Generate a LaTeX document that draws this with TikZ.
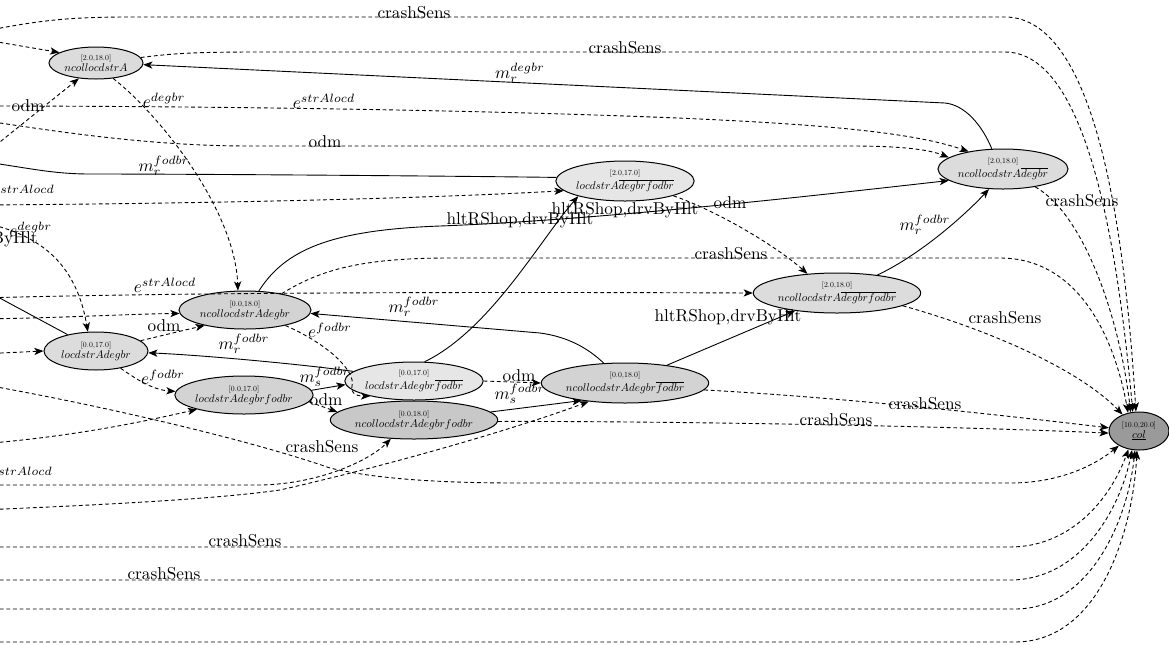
\RequirePackage{fix-cm}
\documentclass[tikz,border=0pt]{standalone}
\usepackage{graphicx}
\usetikzlibrary{arrows.meta,shapes.geometric}
\definecolor{cLight}{HTML}{DCDCDC}
\definecolor{cPale}{HTML}{E6E6E6}
\definecolor{cMid}{HTML}{D3D3D3}
\definecolor{cDeep}{HTML}{C8C8C8}
\definecolor{cDark}{HTML}{9A9A9A}
% state text: small coordinates above, state name below
\newcommand\stlab[2]{\scalebox{0.39}{[#1]}\\\scalebox{0.56}{$#2$}}
% transition text
\newcommand\lt[1]{\scalebox{0.86}{#1}}
\tikzset{
  st/.style={draw, ellipse, line width=0.5pt, inner sep=0pt, align=center,
             font=\fontsize{10}{5.2}\selectfont},
  e/.style={-{Stealth[length=4.6pt,width=3.6pt,inset=1.2pt]}, line width=0.45pt},
  de/.style={e, dash pattern=on 1.9pt off 1.4pt},
  lbl/.style={inner sep=0pt},
}
\begin{document}
\begin{tikzpicture}[x=0.5pt,y=-0.5pt]
\useasboundingbox (0,0) rectangle (1169,644);

% states
\node[st, fill=cLight, minimum width=47pt, minimum height=16pt] (A) at (96,63) {\stlab{2.0,18.0}{ncollocdstrA}};
\node[st, fill=cLight, minimum width=65pt, minimum height=20pt] (B) at (1003,169) {\stlab{2.0,18.0}{ncollocdstrA\overline{degbr}}};
\node[st, fill=cPale, minimum width=68pt, minimum height=20pt] (C) at (625,181) {\stlab{2.0,17.0}{locdstrA\overline{degbrfodbr}}};
\node[st, fill=cLight, minimum width=83pt, minimum height=20pt] (D) at (837,293) {\stlab{2.0,18.0}{ncollocdstrA\overline{degbrfodbr}}};
\node[st, fill=cMid, minimum width=66pt, minimum height=19pt] (E) at (245,310) {\stlab{0.0,18.0}{ncollocdstrAdegbr}};
\node[st, fill=cLight, minimum width=52pt, minimum height=19pt] (F) at (96,351) {\stlab{0.0,17.0}{locdstrAdegbr}};
\node[st, fill=cMid, minimum width=68pt, minimum height=19pt] (G) at (244,395) {\stlab{0.0,17.0}{locdstrAdegbrfodbr}};
\node[st, fill=cPale, minimum width=68pt, minimum height=19pt] (H) at (414,381) {\stlab{0.0,17.0}{locdstrAdegbr\overline{fodbr}}};
\node[st, fill=cDeep, minimum width=83pt, minimum height=19pt] (I) at (414,420) {\stlab{0.0,18.0}{ncollocdstrAdegbrfodbr}};
\node[st, fill=cMid, minimum width=83pt, minimum height=20pt] (J) at (625,383) {\stlab{0.0,18.0}{ncollocdstrAdegbr\overline{fodbr}}};
\node[st, fill=cDark, minimum width=30pt, minimum height=19pt] (K) at (1139,431) {\stlab{10.0,20.0}{\underline{col}}};

% loose ends beyond the left border
\coordinate (p1) at (-20,32);
\coordinate (p2) at (-20,106);
\coordinate (p3) at (-20,120);
\coordinate (p4) at (-30,160);
\coordinate (p5) at (-20,205);
\coordinate (p6) at (-20,384);
\coordinate (p7) at (-20,547);
\coordinate (p8) at (-20,580);
\coordinate (p9) at (-20,609);
\coordinate (p10) at (-20,642);
\coordinate (p11) at (-20,39);
\coordinate (p12) at (-20,158);
\coordinate (p13) at (-20,222);
\coordinate (p14) at (-30,282);
\coordinate (p15) at (-20,319);
\coordinate (p16) at (-20,298);
\coordinate (p17) at (-20,354);
\coordinate (p18) at (-20,444);
\coordinate (p19) at (-20,485);
\coordinate (p20) at (-20,510);

% transitions
\draw[de] (p1) .. controls (40,20) and (70,17) .. (130,17) -- (1005,17) .. controls (1100,17) and (1126,250) .. (K.99);
\draw[de] (A.7) .. controls (175,53) and (200,52) .. (260,52) -- (1005,52) .. controls (1088,52) and (1118,250) .. (K.108);
\draw[e] (B.119) .. controls (982,125) and (965,105) .. (945,103) -- (A.358);
\draw[de] (p2) .. controls (200,106) and (500,110) .. (700,119) .. controls (850,126) and (920,135) .. (B.153);
\draw[de] (p3) .. controls (60,132) and (150,146) .. (250,146) -- (850,146) .. controls (905,146) and (930,150) .. (B.168);
\draw[e] (C.177) .. controls (450,176) and (200,174) .. (90,174) .. controls (50,174) and (25,167) .. (p4);
\draw[de] (p5) .. controls (150,204) and (400,200) .. (C.189);
\draw[e] (H.61) .. controls (490,330) and (540,240) .. (C.198);
\draw[e] (E.54) .. controls (285,250) and (330,230) .. (440,226) .. controls (600,220) and (820,195) .. (B.192);
\draw[de] (C.343) .. controls (715,210) and (775,245) .. (D.147);
\draw[e] (J.23) -- (D.203);
\draw[e] (D.24) .. controls (920,255) and (965,215) .. (B.235);
\draw[de] (B.331) .. controls (1085,215) and (1120,320) .. (K.114);
\draw[de] (E.24) .. controls (320,270) and (360,258) .. (450,258) -- (1000,258) .. controls (1080,258) and (1115,340) .. (K.121);
\draw[de] (D.349) .. controls (990,330) and (1080,370) .. (K.135);
\draw[de] (J.355) .. controls (850,398) and (1000,415) .. (K.174);
\draw[de] (I.359) .. controls (600,421) and (900,424) .. (K.184);
\draw[de] (p6) .. controls (100,405) and (250,440) .. (330,468) .. controls (380,480) and (450,483) .. (520,483) -- (1010,483) .. controls (1060,483) and (1095,465) .. (K.216);
\draw[de] (p7) -- (1010,547) .. controls (1070,547) and (1110,500) .. (K.240);
\draw[de] (p8) -- (1010,580) .. controls (1080,580) and (1120,510) .. (K.250);
\draw[de] (p9) -- (1015,609) .. controls (1090,609) and (1128,520) .. (K.258);
\draw[de] (p10) -- (1015,642) .. controls (1100,642) and (1133,530) .. (K.264);
\draw[de] (p11) -- (A.164);
\draw[de] (p12) -- (A.222);
\draw[de] (A.318) .. controls (160,115) and (235,210) .. (E.110);
\draw[de] (p13) .. controls (30,232) and (75,255) .. (F.113);
\draw[e] (F.150) -- (p14);
\draw[de] (p15) .. controls (60,318) and (130,314) .. (E.183);
\draw[de] (p16) .. controls (200,292) and (500,292) .. (D.180);
\draw[de] (p17) -- (F.180);
\draw[de] (F.13) .. controls (160,336) and (185,330) .. (E.201);
\draw[e] (H.171) .. controls (300,364) and (200,355) .. (F.358);
\draw[e] (J.137) .. controls (590,350) and (570,337) .. (540,333) -- (E.357);
\draw[de] (F.325) .. controls (140,382) and (155,390) .. (G.177);
\draw[e] (G.4) -- (H.183);
\draw[de] (G.354) -- (I.174);
\draw[de] (E.339) .. controls (330,345) and (356,372) .. (352,386) .. controls (350,392) and (355,396) .. (H.199);
\draw[de] (p18) .. controls (80,436) and (150,420) .. (G.197);
\draw[de] (H.0) -- (J.180);
\draw[e] (I.6) -- (J.202);
\draw[de] (p19) -- (260,485) .. controls (320,484) and (370,460) .. (I.219);
\draw[de] (p20) .. controls (150,503) and (230,497) .. (280,490) .. controls (420,458) and (540,420) .. (J.207);

% transition labels
\node[lbl] (t1) at (414,13) {\lt{crashSens}};
\node[lbl] (t2) at (625,48) {\lt{crashSens}};
\node[lbl] (t3) at (520,73) {\lt{$m_r^{degbr}$}};
\node[lbl] (t4) at (164,100) {\lt{$e^{degbr}$}};
\node[lbl] (t5) at (28,106) {\lt{odm}};
\node[lbl] (t6) at (324,101) {\lt{$e^{strAlocd}$}};
\node[lbl] (t7) at (325,142) {\lt{odm}};
\node[lbl] (t8) at (164,166) {\lt{$m_r^{fodbr}$}};
\node[lbl, anchor=east] (t9) at (55,192) {\lt{$e^{strAlocd}$}};
\node[lbl] (t10) at (625,210) {\lt{hltRShop,drvByHlt}};
\node[lbl] (t11) at (520,220) {\lt{hltRShop,drvByHlt}};
\node[lbl] (t12) at (730,203) {\lt{odm}};
\node[lbl] (t13) at (1082,201) {\lt{crashSens}};
\node[lbl] (t14) at (925,225) {\lt{$m_r^{fodbr}$}};
\node[lbl, anchor=west] (t15) at (9,229) {\lt{$e^{degbr}$}};
\node[lbl, anchor=east] (t16) at (38,239) {\lt{hltRShop,drvByHlt}};
\node[lbl] (t17) at (731,254) {\lt{crashSens}};
\node[lbl] (t18) at (165,285) {\lt{$e^{strAlocd}$}};
\node[lbl] (t19) at (414,307) {\lt{$m_r^{fodbr}$}};
\node[lbl] (t20) at (728,317) {\lt{hltRShop,drvByHlt}};
\node[lbl] (t21) at (1005,318) {\lt{crashSens}};
\node[lbl] (t22) at (164,326) {\lt{odm}};
\node[lbl] (t23) at (330,330) {\lt{$e^{fodbr}$}};
\node[lbl] (t24) at (244,344) {\lt{$m_r^{fodbr}$}};
\node[lbl] (t25) at (519,376) {\lt{odm}};
\node[lbl] (t26) at (325,377) {\lt{$m_s^{fodbr}$}};
\node[lbl] (t27) at (163,377) {\lt{$e^{fodbr}$}};
\node[lbl] (t28) at (520,394) {\lt{$m_s^{fodbr}$}};
\node[lbl] (t29) at (326,400) {\lt{odm}};
\node[lbl] (t30) at (925,404) {\lt{crashSens}};
\node[lbl] (t31) at (836,420) {\lt{crashSens}};
\node[lbl] (t32) at (322,447) {\lt{crashSens}};
\node[lbl, anchor=east] (t33) at (53,474) {\lt{$e^{strAlocd}$}};
\node[lbl] (t34) at (245,541) {\lt{crashSens}};
\node[lbl] (t35) at (164,574) {\lt{crashSens}};
\end{tikzpicture}
\end{document}
